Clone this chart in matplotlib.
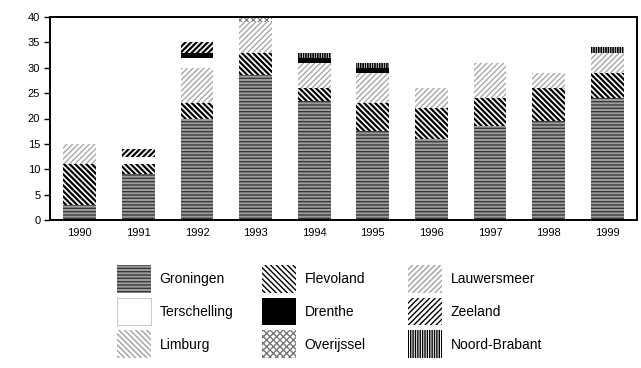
import numpy as np
import matplotlib
matplotlib.use("Agg")
import matplotlib.pyplot as plt
from matplotlib.patches import Rectangle
from matplotlib.legend_handler import HandlerPatch

# Data
years = ["1990", "1991", "1992", "1993", "1994", "1995", "1996", "1997", "1998", "1999"]
groningen = [3, 9, 20, 28.5, 23.5, 17.5, 16, 18.5, 19.5, 24]
flevoland = [8, 2, 3, 4.5, 2.5, 5.5, 6, 5.5, 6.5, 5]
lauwersmeer = [4, 0, 7, 6, 5, 6, 4, 7, 3, 4]
terschelling = [0, 1.5, 2, 0, 0, 0, 0, 0, 0, 0]
drenthe = [0, 0, 1, 0, 1, 1, 0, 0, 0, 0]
zeeland = [0, 1.5, 2, 0, 0, 0, 0, 0, 0, 0]
limburg = [0, 0, 0, 0, 0, 0, 0, 0, 0, 0]
overijssel = [0, 0, 0, 1, 0, 0, 0, 0, 0, 0]
noord_brabant = [0, 0, 0, 0, 1, 1, 0, 0, 0, 1]

series = [
    ("Groningen", groningen),
    ("Flevoland", flevoland),
    ("Lauwersmeer", lauwersmeer),
    ("Terschelling", terschelling),
    ("Drenthe", drenthe),
    ("Zeeland", zeeland),
    ("Limburg", limburg),
    ("Overijssel", overijssel),
    ("Noord-Brabant", noord_brabant),
]

# Styles: facecolor, hatch, hatch colour, hatch linewidth
styles = {
    "Groningen": ("#9c9c9c", "-----", "#3a3a3a", 1.0),
    "Flevoland": ("white", "\\" * 6, "black", 1.6),
    "Lauwersmeer": ("white", "/" * 6, "#a0a0a0", 0.9),
    "Terschelling": ("white", "", "#cccccc", 1.0),
    "Drenthe": ("black", "", "black", 1.0),
    "Zeeland": ("white", "/" * 6, "black", 1.6),
    "Limburg": ("white", "\\" * 6, "#a0a0a0", 0.9),
    "Overijssel": ("white", "xxxxx", "#777777", 0.8),
    "Noord-Brabant": ("white", "|" * 7, "black", 1.2),
}

plt.rcParams["font.family"] = ["Liberation Sans", "DejaVu Sans"]

fig = plt.figure(figsize=(6.41, 3.68), dpi=100)
ax = fig.add_axes([50 / 641, 1 - 220 / 368, 587 / 641, 203 / 368])

x = np.arange(len(years))
bottom = np.zeros(len(years))
handles = {}
for name, vals in series:
    fc, hatch, hc, hlw = styles[name]
    vals = np.array(vals, dtype=float)
    with plt.rc_context({"hatch.linewidth": hlw}):
        b = ax.bar(x, vals, 0.56, bottom=bottom, facecolor=fc, hatch=hatch,
                   edgecolor=hc, linewidth=0, label=name)
    handles[name] = b.patches[0]
    bottom += vals

ax.set_xlim(-0.51, 9.51)
ax.set_ylim(0, 40)
ax.set_yticks(range(0, 41, 5))
ax.set_xticks(x)
ax.set_xticklabels(years)
ax.tick_params(axis="x", length=0, pad=6, labelsize=8)
ax.tick_params(axis="y", length=4, width=1, labelsize=8, pad=3)
for s in ax.spines.values():
    s.set_linewidth(1.4)

# Legend as three columns
cols = [["Groningen", "Terschelling", "Limburg"],
        ["Flevoland", "Drenthe", "Overijssel"],
        ["Lauwersmeer", "Zeeland", "Noord-Brabant"]]
col_x = [111, 256, 402]
for cx, names in zip(col_x, cols):
    leg = fig.legend([handles[n] for n in names], names, loc="upper left",
                     bbox_to_anchor=(cx / 641, 1 - 259 / 368), frameon=False,
                     fontsize=10, handlelength=2.45, handleheight=2.72,
                     handletextpad=0.65, labelspacing=0.36, borderaxespad=0,
                     handler_map={Rectangle: HandlerPatch(ypad=0)})
    for p in leg.get_patches():
        p.set_linewidth(0)
    if "Terschelling" in names:
        leg.get_patches()[1].set_linewidth(0.8)

fig.savefig("out.png", dpi=100)
